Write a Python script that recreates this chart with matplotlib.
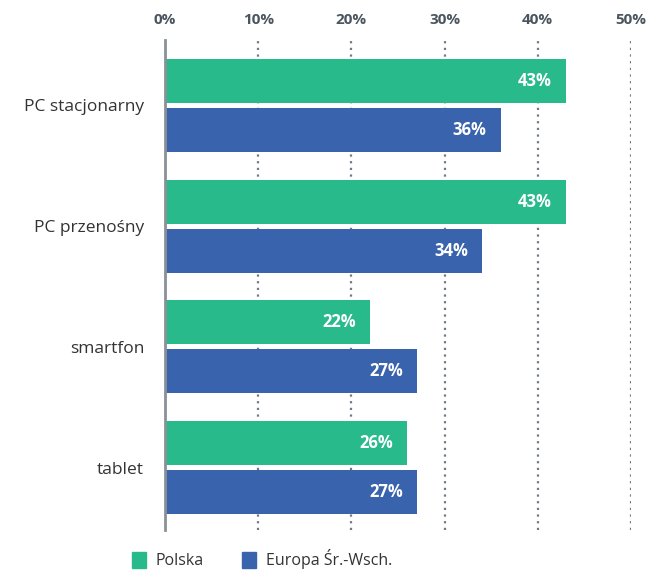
import matplotlib.pyplot as plt
from matplotlib.patches import Patch

categories = ["PC stacjonarny", "PC przenośny", "smartfon", "tablet"]
polska = [43, 43, 22, 26]
europa = [36, 34, 27, 27]
series_names = ["Polska", "Europa Śr.-Wsch."]
ticks = [0, 10, 20, 30, 40, 50]
tick_labels = ["0%", "10%", "20%", "30%", "40%", "50%"]

GREEN = "#29BA8B"
BLUE = "#3963AD"

plt.rcParams["font.family"] = ["Open Sans", "DejaVu Sans"]

fig = plt.figure(figsize=(6.47, 5.72), dpi=100)
W, H = 647, 572
ax = fig.add_axes([165 / W, 1 - 530 / H, (631 - 165) / W, 490 / H])

y = list(range(len(categories)))
h = 0.364
off = 0.2025
ax.barh([v - off for v in y], polska, height=h, color=GREEN, zorder=3)
ax.barh([v + off for v in y], europa, height=h, color=BLUE, zorder=3)

for i, (p, e) in enumerate(zip(polska, europa)):
    ax.text(p - 1.5, i - off, f"{p}%", ha="right", va="center", color="white",
            fontsize=12, fontweight="bold", zorder=4)
    ax.text(e - 1.5, i + off, f"{e}%", ha="right", va="center", color="white",
            fontsize=12, fontweight="bold", zorder=4)

ax.set_xlim(0, 50)
ax.set_ylim(3.517, -0.541)
ax.set_xticks(ticks)
ax.set_xticklabels(tick_labels)
ax.xaxis.tick_top()
ax.tick_params(axis="x", length=0, pad=9, labelsize=11, labelcolor="#4A5560")
for lbl in ax.get_xticklabels():
    lbl.set_fontweight("bold")
ax.set_yticks(y)
ax.set_yticklabels(categories)
ax.tick_params(axis="y", length=0, pad=15, labelsize=12.5, labelcolor="#333333")

for t in ticks[1:]:
    ax.axvline(t, color="#707A84", linestyle=(0, (1, 2)), linewidth=1.6, zorder=1)

for s in ["top", "right", "bottom"]:
    ax.spines[s].set_visible(False)
ax.spines["left"].set_color("#8A9097")
ax.spines["left"].set_linewidth(2)
ax.spines["left"].set_zorder(5)

handles = [Patch(color=GREEN), Patch(color=BLUE)]
fig.legend(handles, series_names, loc="lower left", ncol=2, frameon=False,
           bbox_to_anchor=(130 / W, 0.002), fontsize=11.5, borderpad=0.1,
           borderaxespad=0, handlelength=0.9, handleheight=1.2,
           handletextpad=0.6, columnspacing=2.4, labelcolor="#333333")

fig.savefig("out.png", dpi=100)
